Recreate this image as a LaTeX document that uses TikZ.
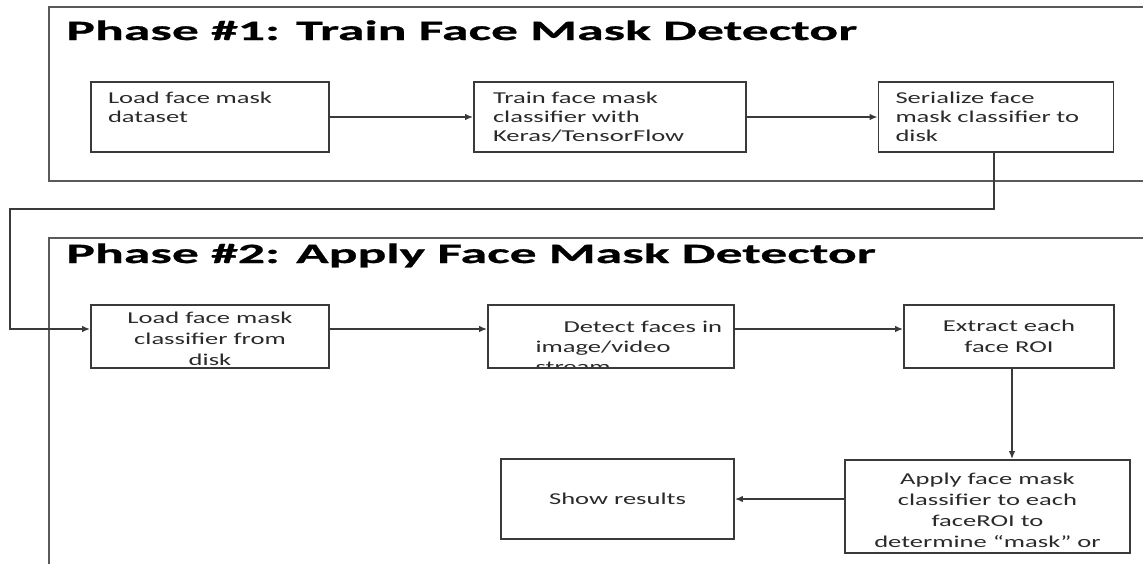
\documentclass[tikz,border=0pt]{standalone}
\usepackage{fontspec}
\usetikzlibrary{arrows.meta}
\newfontfamily\titlefont{Carlito}[FakeStretch=1.92, FakeBold=0.8]
\newfontfamily\boxfont{Carlito}[FakeStretch=1.6]
\definecolor{linegray}{HTML}{3A3A3A}
\definecolor{framegray}{HTML}{5A5A5A}
\definecolor{textgray}{HTML}{2A2A2A}
\tikzset{
  stage/.style={draw=linegray, line width=0.8pt, rectangle, inner sep=0pt,
    text=textgray, font=\boxfont\fontsize{8.3pt}{9.5pt}\selectfont},
  stagetwo/.style={stage, font=\boxfont\fontsize{8.3pt}{10.5pt}\selectfont},
  phase/.style={anchor=base west, inner sep=0pt,
    font=\titlefont\bfseries\fontsize{14pt}{16pt}\selectfont},
  phaseframe/.style={draw=framegray, line width=1pt},
}
\begin{document}
\begin{tikzpicture}[x=0.5pt, y=-0.5pt]
      \useasboundingbox (0,0) rectangle (1143,564);
      % frames
      \draw[phaseframe] (1143,7) -- (49,7) -- (49,181) -- (1143,181);
      \draw[phaseframe] (1143,238) -- (49,238) -- (49,564);
      \node[phase] (title1) at (66,40) {Phase \#1: Train Face Mask Detector};
      \node[phase] (title2) at (66,263) {Phase \#2: Apply Face Mask Detector};
      % phase 1
      \node[stage, minimum width=119pt, minimum height=35pt, inner xsep=8.5pt,
        text width=102pt, align=left] (load) at (210,117)
        {Load face mask\\dataset\\\mbox{}};
      \node[stage, minimum width=136pt, minimum height=35pt, inner xsep=9.5pt,
        text width=117pt, align=left] (train) at (610,117)
        {Train face mask\\classifier with\\Keras/TensorFlow};
      \node[stage, minimum width=117.5pt, minimum height=35pt, inner xsep=8.5pt,
        text width=100.5pt, align=left] (ser) at (996,117)
        {Serialize face\\mask classifier to\\disk};
      % phase 2
      \node[stagetwo, minimum width=119pt, minimum height=31.5pt, align=center]
        (loadclf) at (210,336.5) {\rule{0pt}{8.2pt}Load face mask\\classifier from\\disk};
      \node[stagetwo, minimum width=123pt, minimum height=31.5pt,
        path picture={
          \node[stage, draw=none, font=\boxfont\fontsize{8.3pt}{10pt}\selectfont,
            anchor=north west, align=left] (detecttxt)
            at ([xshift=8.5pt, yshift=-4.75pt]path picture bounding box.north west)
            {\hspace{14pt}Detect faces in\\image/video\\stream};
        }] (detect) at (611,336.5) {};
      \node[stagetwo, minimum width=105pt, minimum height=31.5pt, align=center]
        (roi) at (1009,336.5) {Extract each\\face ROI};
      \node[stagetwo, minimum width=142.5pt, minimum height=46.5pt, align=center]
        (apply) at (987.5,506.5)
        {\rule{0pt}{9.7pt}Apply face mask\\classifier to each\\faceROI to\\determine “mask” or};
      \node[stagetwo, minimum width=116.5pt, minimum height=40pt, align=center]
        (show) at (617.5,499) {Show results};
      \coordinate (turn) at (10,209);
      \begin{scope}[-{Latex[length=4pt,width=3.2pt]}, draw=linegray, line width=0.8pt]
        \draw (load) to (train);
        \draw (train) to (ser);
        \draw ([xshift=-1pt]ser.south) |- (turn) |- ([yshift=3.75pt]loadclf.west);
        \draw ([yshift=3.75pt]loadclf.east) to ([yshift=3.75pt]detect.west);
        \draw ([yshift=3.75pt]detect.east) to ([yshift=3.75pt]roi.west);
        \draw ([xshift=1.5pt]roi.south) to ([xshift=1.5pt]roi.south |- apply.north);
        \draw (apply.west |- show.east) to (show.east);
      \end{scope}
    \end{tikzpicture}
\end{document}
